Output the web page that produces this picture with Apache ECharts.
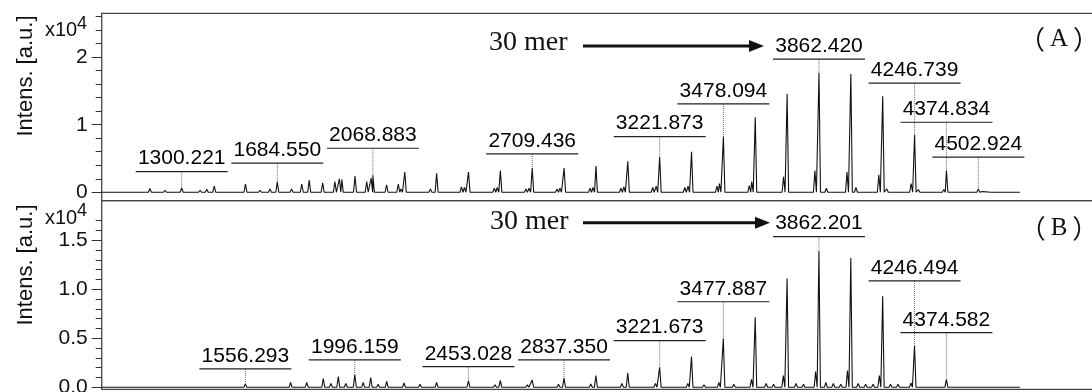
<!DOCTYPE html>
<html>
<head>
<meta charset="utf-8">
<script src="https://cdn.jsdelivr.net/npm/echarts@6/dist/echarts.min.js"></script>
<style>
  html, body { margin: 0; padding: 0; background: #fff; }
  #main { width: 1092px; height: 392px; }
</style>
</head>
<body>
<div id="main"></div>
<script>
// m/z range shared by both spectra
const mzMin = 978.6;
const mzMax = 5000;

// (A) main ladder peaks (m/z, intensity x10^4)
const ladderMzA = [1039, 1172.3, 1300.221, 1431, 1556.6, 1684.550, 1812.8, 1934, 2068.883, 2197.1,
  2325.2, 2453.3, 2581.4, 2709.436, 2837.6, 2965.7, 3093.8, 3221.873, 3350.0, 3478.094,
  3606.2, 3734.3, 3862.420, 3990.5, 4118.6, 4246.739, 4374.834, 4502.924];
const ladderIntA = [0.025, 0.055, 0.064, 0.09, 0.12, 0.15, 0.18, 0.20, 0.25, 0.30,
  0.28, 0.30, 0.32, 0.36, 0.36, 0.39, 0.46, 0.52, 0.60, 0.82,
  1.11, 1.46, 1.77, 1.75, 1.42, 0.85, 0.32, 0.05];
// (A) side / minor peaks
const minorMzA = [1233, 1374, 1401, 1615, 1655, 1742, 1783, 1867, 1916, 1944, 1997, 2044, 2062,
  2124, 2171, 2182, 2300, 2425, 2437, 2557, 2569, 2684, 2697, 2809, 2821, 2942, 2954,
  3066, 3078, 3194, 3208, 3323, 3336, 3452, 3462, 3582, 3592, 3720, 3846, 3892, 3975,
  4011, 4103, 4135, 4233, 4262, 4364, 4520, 4560, 4600, 4640];
const minorIntA = [0.03, 0.03, 0.045, 0.03, 0.05, 0.05, 0.12, 0.14, 0.16, 0.19, 0.24, 0.16, 0.21,
  0.11, 0.12, 0.05, 0.05, 0.08, 0.07, 0.06, 0.07, 0.05, 0.06, 0.05, 0.06, 0.06, 0.07,
  0.06, 0.08, 0.07, 0.09, 0.07, 0.09, 0.09, 0.13, 0.10, 0.16, 0.23, 0.32, 0.06, 0.30,
  0.07, 0.26, 0.05, 0.13, 0.04, 0.04, 0.01, 0.012, 0.01, 0.01];

// (B) main ladder peaks
const ladderMzB = [1172.3, 1300.4, 1428.5, 1556.293, 1684.6, 1802.8, 1869.5, 1929.8, 1996.159, 2060,
  2124.4, 2194, 2258, 2325, 2453.028, 2581.2, 2709.3, 2837.350, 2965.5, 3093.6,
  3221.673, 3349.8, 3477.887, 3606.0, 3734.1, 3862.201, 3990.3, 4118.4, 4246.494, 4374.582, 4502.7];
const ladderIntB = [0.015, 0.02, 0.02, 0.035, 0.02, 0.05, 0.09, 0.11, 0.13, 0.10,
  0.06, 0.045, 0.03, 0.05, 0.065, 0.07, 0.075, 0.095, 0.12, 0.146,
  0.204, 0.313, 0.497, 0.714, 1.11, 1.39, 1.32, 0.93, 0.42, 0.08, 0.02];
// (B) side / noise peaks
const minorMzB = [1020, 1060, 1100, 1140, 1210, 1250, 1340, 1380, 1470, 1510, 1600, 1640, 1738, 1780,
  1900, 1960, 2030, 2090, 2160, 2230, 2300, 2390, 2430, 2510, 2560, 2640, 2690, 2760, 2815,
  2890, 2945, 3020, 3070, 3150, 3205, 3270, 3335, 3400, 3460, 3520, 3591, 3650, 3680, 3719,
  3770, 3800, 3849, 3890, 3920, 3950, 3977, 4020, 4050, 4080, 4105, 4150, 4180, 4232, 4290,
  4330, 4400, 4440, 4540, 4600];
const minorIntB = [0.01, 0.012, 0.01, 0.015, 0.012, 0.01, 0.012, 0.01, 0.015, 0.01, 0.015, 0.02, 0.05, 0.02,
  0.04, 0.04, 0.05, 0.03, 0.02, 0.02, 0.02, 0.015, 0.02, 0.015, 0.025, 0.015, 0.025, 0.015, 0.03,
  0.015, 0.035, 0.015, 0.04, 0.02, 0.04, 0.02, 0.04, 0.025, 0.05, 0.03, 0.08, 0.04, 0.03, 0.12,
  0.04, 0.03, 0.16, 0.05, 0.04, 0.03, 0.17, 0.04, 0.03, 0.03, 0.12, 0.03, 0.03, 0.045, 0.02,
  0.02, 0.02, 0.015, 0.01, 0.01];

// annotated peaks
const labelsA = ['1300.221', '1684.550', '2068.883', '2709.436', '3221.873', '3478.094',
  '3862.420', '4246.739', '4374.834', '4502.924'];
const labelsB = ['1556.293', '1996.159', '2453.028', '2837.350', '3221.673', '3477.887',
  '3862.201', '4246.494', '4374.582'];

// y-axis ticks (x10^4)
const yMinorTicksA = [0, 0.2, 0.4, 0.6, 0.8, 1, 1.2, 1.4, 1.6, 1.8, 2, 2.2, 2.4, 2.6];
const yMajorTicksA = [0, 1, 2];
const yMinorTicksB = [0, 0.1, 0.2, 0.3, 0.4, 0.5, 0.6, 0.7, 0.8, 0.9, 1, 1.1, 1.2, 1.3, 1.4, 1.5, 1.6, 1.7];
const yMajorTicksB = [0, 0.5, 1, 1.5];

// layout: height of each label's underline (axis units)
const labelLevelA = [0.305, 0.43, 0.652, 0.567, 0.824, 1.308, 1.97, 1.615, 1.037, 0.519];
const labelLevelB = [0.187, 0.279, 0.21, 0.279, 0.476, 0.873, 1.537, 1.085, 0.557];

const HALF = 6;          // half base width of a peak, in Da
const SANS = 'Liberation Sans, Arial, sans-serif';
const SERIF = 'Liberation Serif, Times New Roman, Noto Sans CJK SC, serif';

function buildSpectrum(mz, it, mz2, it2, start, end) {
  const peaks = mz.map((m, i) => [m, it[i]])
    .concat(mz2.map((m, i) => [m, it2[i]]))
    .sort((a, b) => a[0] - b[0]);
  const pts = [[start, 0]];
  peaks.forEach(p => {
    pts.push([p[0] - HALF, 0], [p[0], p[1]], [p[0] + HALF, 0]);
  });
  pts.push([end, 0]);
  return pts;
}

function peakHeight(m, mz, it) {
  let best = 0;
  mz.forEach((v, i) => { if (Math.abs(v - m) < Math.abs(mz[best] - m)) best = i; });
  return it[best];
}

function labelData(labels, levels, mz, it) {
  return labels.map((t, i) => {
    const m = parseFloat(t);
    return [m, levels[i], peakHeight(m, mz, it), i];
  });
}

function labelRenderer(labels) {
  return function (params, api) {
    const m = api.value(0);
    const p = api.coord([m, api.value(1)]);
    const q = api.coord([m, api.value(2)]);
    const idx = api.value(3);
    return {
      type: 'group',
      children: [
        { type: 'line', shape: { x1: p[0], y1: p[1], x2: p[0], y2: q[1] },
          style: { stroke: '#666', lineWidth: 1, lineDash: [1, 1] } },
        { type: 'line', shape: { x1: p[0] - 46, y1: p[1], x2: p[0] + 46, y2: p[1] },
          style: { stroke: '#222', lineWidth: 1.2 } },
        { type: 'text', x: p[0], y: p[1] - 13,
          style: { text: labels[idx], fontSize: 21, fontFamily: SANS, fill: '#000',
            align: 'center', verticalAlign: 'middle', textAlign: 'center', textVerticalAlign: 'middle' } }
      ]
    };
  };
}

function yAxes(grid, min, max, minor, major, fmt) {
  const common = {
    gridIndex: grid, type: 'value', position: 'left', min: min, max: max,
    axisLine: { show: false, onZero: false }, splitLine: { show: false }
  };
  return [
    Object.assign({}, common, {
      axisTick: { show: true, length: 6, customValues: minor, lineStyle: { color: '#333', width: 1 } },
      axisLabel: { show: false }
    }),
    Object.assign({}, common, {
      axisTick: { show: true, length: 10, customValues: major, lineStyle: { color: '#333', width: 1 } },
      axisLabel: { show: true, customValues: major, formatter: fmt, margin: 14,
        fontSize: 21, fontFamily: SANS, color: '#111' }
    })
  ];
}

function panelTag(letter, y) {
  return {
    type: 'text', x: 1059, y: y,
    style: {
      text: '{p|（}{a|' + letter + '}{p|）}',
      rich: {
        p: { fontSize: 26, fontFamily: 'Noto Sans CJK SC', fill: '#111' },
        a: { fontSize: 25, fontFamily: 'Liberation Serif', fill: '#111', padding: [0, 5, 0, 5] }
      },
      align: 'center', verticalAlign: 'middle', textAlign: 'center', textVerticalAlign: 'middle'
    }
  };
}

const chart = echarts.init(document.getElementById('main'), null, { renderer: 'canvas' });

const gridStyle = { show: true, borderColor: '#444', borderWidth: 1.3, backgroundColor: 'transparent',
  left: 101.7, width: (mzMax - mzMin) * 0.24873, outerBoundsMode: 'none' };

const option = {
  animation: false,
  grid: [
    Object.assign({}, gridStyle, { top: 13.3, height: 187.4 }),
    Object.assign({}, gridStyle, { top: 200.7, height: 188.6 })
  ],
  xAxis: [
    { gridIndex: 0, type: 'value', min: mzMin, max: mzMax, show: false },
    { gridIndex: 1, type: 'value', min: mzMin, max: mzMax, show: false }
  ],
  yAxis: yAxes(0, -0.125, 2.65, yMinorTicksA, yMajorTicksA, v => String(Math.round(v)))
    .concat(yAxes(1, -0.0204, 1.904, yMinorTicksB, yMajorTicksB, v => v.toFixed(1))),
  series: [
    {
      type: 'line', xAxisIndex: 0, yAxisIndex: 0, symbol: 'none', silent: true,
      lineStyle: { color: '#111', width: 1.1 },
      data: buildSpectrum(ladderMzA, ladderIntA, minorMzA, minorIntA, 979, 4670)
    },
    {
      type: 'line', xAxisIndex: 1, yAxisIndex: 2, symbol: 'none', silent: true,
      lineStyle: { color: '#111', width: 1.1 },
      data: buildSpectrum(ladderMzB, ladderIntB, minorMzB, minorIntB, 979, 4670)
    },
    {
      type: 'custom', xAxisIndex: 0, yAxisIndex: 0, silent: true, z: 5,
      renderItem: labelRenderer(labelsA),
      data: labelData(labelsA, labelLevelA, ladderMzA, ladderIntA)
    },
    {
      type: 'custom', xAxisIndex: 1, yAxisIndex: 2, silent: true, z: 5,
      renderItem: labelRenderer(labelsB),
      data: labelData(labelsB, labelLevelB, ladderMzB, ladderIntB)
    }
  ],
  graphic: [
    { type: 'text', x: 26, y: 76, rotation: Math.PI / 2,
      style: { text: 'Intens. [a.u.]', fontSize: 22, fontFamily: SANS, fill: '#111',
        align: 'center', verticalAlign: 'middle', textAlign: 'center', textVerticalAlign: 'middle' } },
    { type: 'text', x: 26, y: 265, rotation: Math.PI / 2,
      style: { text: 'Intens. [a.u.]', fontSize: 22, fontFamily: SANS, fill: '#111',
        align: 'center', verticalAlign: 'middle', textAlign: 'center', textVerticalAlign: 'middle' } },
    { type: 'text', x: 45, y: 30.8,
      style: { text: 'x10', fontSize: 20, fontFamily: SANS, fill: '#111', verticalAlign: 'middle', textVerticalAlign: 'middle' } },
    { type: 'text', x: 77, y: 24,
      style: { text: '4', fontSize: 18, fontFamily: SANS, fill: '#111', verticalAlign: 'middle', textVerticalAlign: 'middle' } },
    { type: 'text', x: 45, y: 218.2,
      style: { text: 'x10', fontSize: 20, fontFamily: SANS, fill: '#111', verticalAlign: 'middle', textVerticalAlign: 'middle' } },
    { type: 'text', x: 77, y: 211.4,
      style: { text: '4', fontSize: 18, fontFamily: SANS, fill: '#111', verticalAlign: 'middle', textVerticalAlign: 'middle' } },

    { type: 'text', x: 489, y: 43,
      style: { text: '30 mer', fontSize: 28, fontFamily: SERIF, fill: '#111', verticalAlign: 'middle', textVerticalAlign: 'middle' } },
    { type: 'line', shape: { x1: 583, y1: 46, x2: 752, y2: 46 }, style: { stroke: '#111', lineWidth: 3 } },
    { type: 'polygon', shape: { points: [[749, 40], [764, 46], [749, 52]] }, style: { fill: '#111' } },

    { type: 'text', x: 490, y: 221.7,
      style: { text: '30 mer', fontSize: 28, fontFamily: SERIF, fill: '#111', verticalAlign: 'middle', textVerticalAlign: 'middle' } },
    { type: 'line', shape: { x1: 583, y1: 222.7, x2: 758, y2: 222.7 }, style: { stroke: '#111', lineWidth: 3 } },
    { type: 'polygon', shape: { points: [[755, 216.7], [770, 222.7], [755, 228.7]] }, style: { fill: '#111' } },

    panelTag('A', 39),
    panelTag('B', 228)
  ]
};

chart.setOption(option);
</script>
</body>
</html>
